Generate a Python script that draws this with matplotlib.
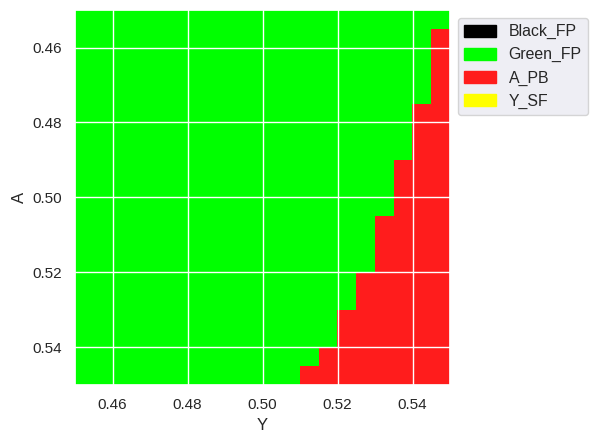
import matplotlib
matplotlib.use("Agg")
import matplotlib.pyplot as plt
import matplotlib.patches as mpatches
from matplotlib.colors import ListedColormap
import numpy as np
import seaborn as sns

sns.set_theme(style="darkgrid")
plt.rcParams["font.family"] = ["Liberation Sans", "DejaVu Sans"]

# grid of the phase scan
y_min, y_max = 0.45, 0.55
a_min, a_max = 0.45, 0.55
step = 0.005

# for each A row (top to bottom) the Y value where A_PB (red) starts
red_start = [0.550, 0.545, 0.545, 0.545, 0.545,
             0.540, 0.540, 0.540,
             0.535, 0.535, 0.535,
             0.530, 0.530, 0.530,
             0.525, 0.525,
             0.520, 0.520,
             0.515, 0.510]

labels = ["Black_FP", "Green_FP", "A_PB", "Y_SF"]
colors = ["#000000", "#00ff00", "#ff1c1c", "#ffff00"]

y_vals = np.arange(y_min, y_max - 1e-9, step) + step / 2
phase = np.array([[2 if y > s else 1 for y in y_vals] for s in red_start])

fig = plt.figure(figsize=(5.94, 4.45), dpi=100)
ax = fig.add_axes([75 / 594, 60 / 445, 375 / 594, 375 / 445])

ax.imshow(phase, cmap=ListedColormap(colors), vmin=0, vmax=3,
          extent=[y_min, y_max, a_max, a_min], interpolation="nearest",
          aspect="equal")

ax.set_xticks([0.46, 0.48, 0.50, 0.52, 0.54])
ax.set_yticks([0.46, 0.48, 0.50, 0.52, 0.54])
ax.set_xlabel("Y")
ax.set_ylabel("A")

handles = [mpatches.Patch(color=c, label=l) for c, l in zip(colors, labels)]
ax.legend(handles=handles, loc="upper left", bbox_to_anchor=(1.0, 1.0),
          fontsize=11.4, handleheight=0.8)

fig.savefig("out.png", dpi=100)
